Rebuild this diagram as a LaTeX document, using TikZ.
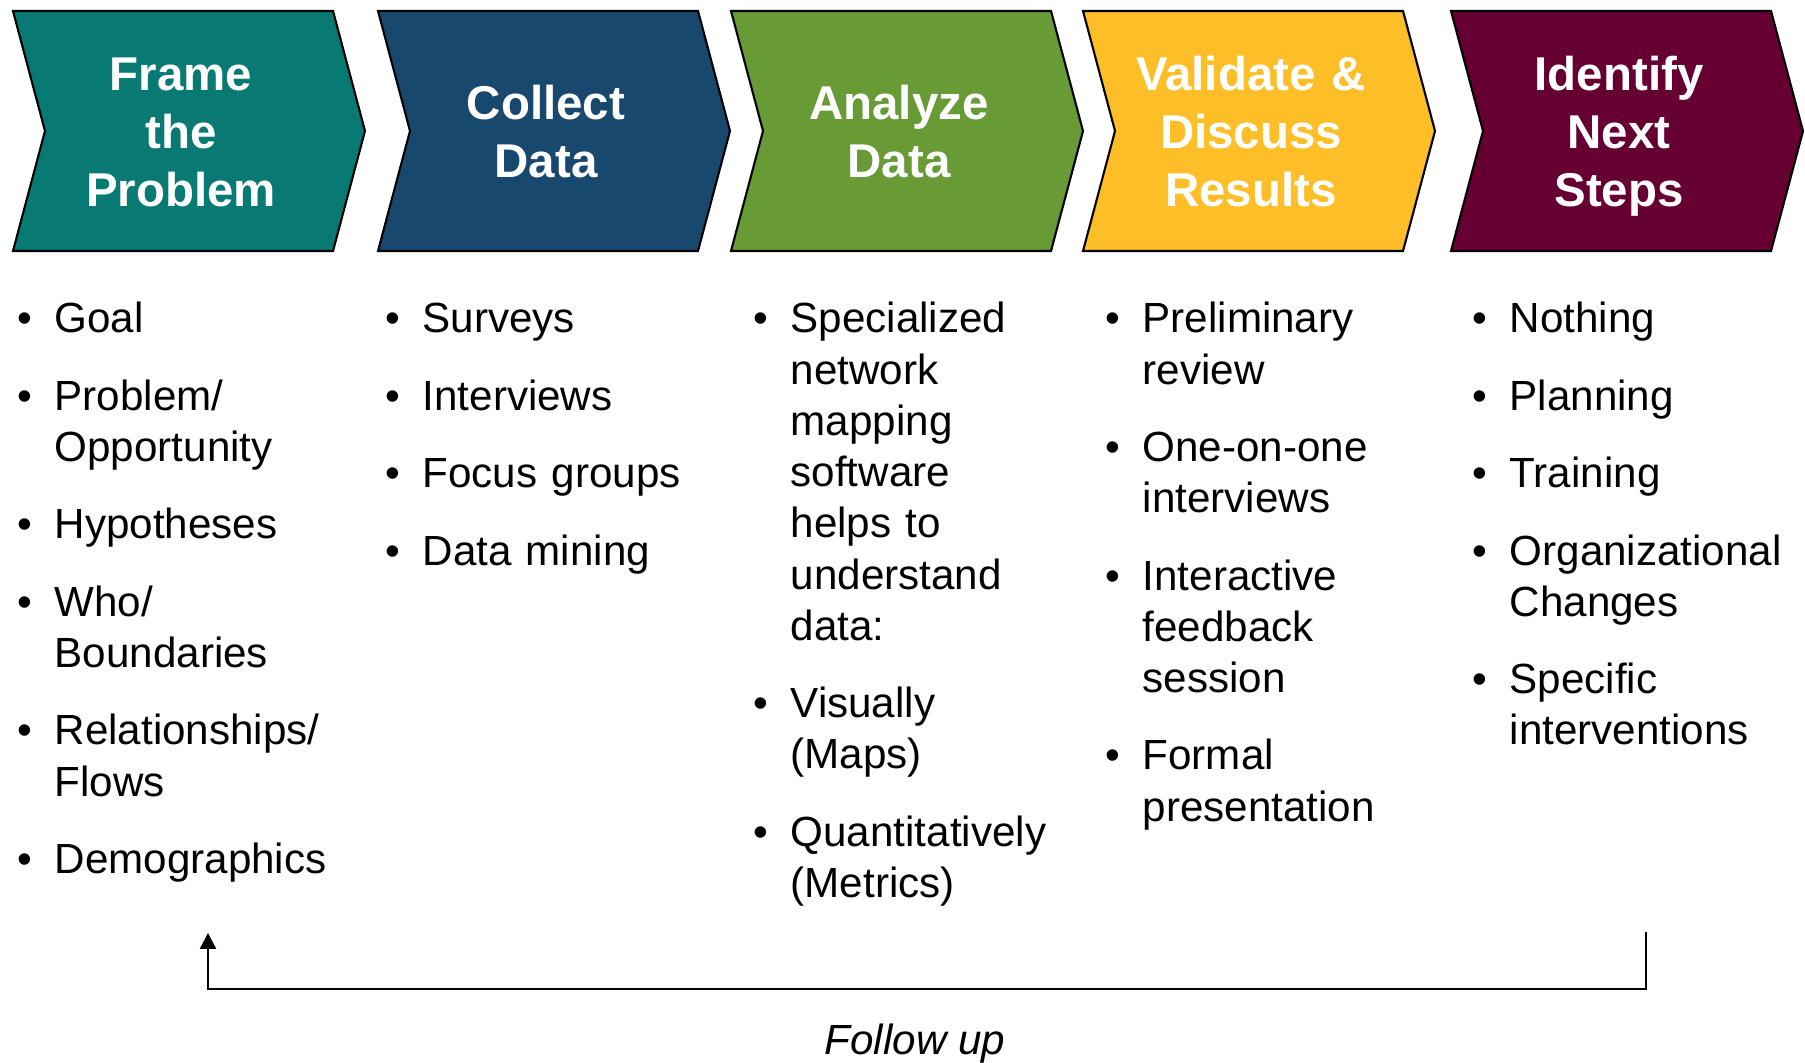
\documentclass[tikz,border=0pt]{standalone}
\usepackage{fontspec}
\setmainfont{Liberation Sans}
\usetikzlibrary{arrows.meta}

\definecolor{frameteal}{HTML}{087A73}
\definecolor{collectblue}{HTML}{19486E}
\definecolor{analyzegreen}{HTML}{689A36}
\definecolor{validateyellow}{HTML}{FDBE28}
\definecolor{nextmaroon}{HTML}{660033}

% one bullet point, wrapped lines hang under the text
\newcommand{\pitem}[1]{\hangindent=0.6cm\hangafter=1\makebox[0.6cm][l]{\hspace{0.226cm}\textbullet}#1}
\newcommand{\pnext}{\par\vspace{7.45pt}}

\tikzset{
  chevron/.style={draw=black, line width=0.6pt, line join=miter},
  chevtext/.style={anchor=base, inner sep=0pt, text width=3.2cm, text=white, align=center,
                   font=\bfseries\fontsize{13.5}{16.5}\selectfont},
  bulletcol/.style={anchor=base west, inner sep=0pt, text width=3.5cm, align=left,
                    font=\fontsize{12}{14.57}\selectfont},
  backarrow/.style={line width=0.7pt, -{Triangle[width=0.16cm,length=0.16cm]}}
}

\begin{document}
\begin{tikzpicture}
        \useasboundingbox (0,0) rectangle (18.05,10.63);

        % Chevrons (\b = baseline of the first heading line)
        \foreach \l/\c/\n/\b/\t in {0.13/frameteal/frame/9.72/{Frame\\the\\Problem},
                                    3.78/collectblue/collect/9.43/{Collect\\Data},
                                    7.31/analyzegreen/analyze/9.43/{Analyze\\Data},
                                    10.83/validateyellow/validate/9.72/{Validate \&\\Discuss\\Results},
                                    14.51/nextmaroon/next/9.72/{Identify\\Next\\Steps}}
        {
            \draw[chevron, fill=\c] (\l,10.52) -- ++(3.20,0) -- ++(0.32,-1.20) -- ++(-0.32,-1.20)
                -- ++(-3.20,0) -- ++(0.32,1.20) -- cycle;
            \node[chevtext] (\n) at (\l+1.68,\b) {\t};
        }

        % Bullet lists
        \node[bulletcol] (frame-list) at (-0.06,7.30) {\pitem{Goal}\pnext
            \pitem{Problem/\newline Opportunity}\pnext
            \pitem{Hypotheses}\pnext
            \pitem{Who/\newline Boundaries}\pnext
            \pitem{Relationships/\newline Flows}\pnext
            \pitem{Demographics}\par};
        \node[bulletcol] (collect-list) at (3.62,7.30) {\pitem{Surveys}\pnext
            \pitem{Interviews}\pnext
            \pitem{Focus groups}\pnext
            \pitem{Data mining}\par};
        \node[bulletcol] (analyze-list) at (7.30,7.30) {\pitem{Specialized\newline network\newline mapping\newline software\newline helps to\newline understand\newline data:}\pnext
            \pitem{Visually\newline (Maps)}\pnext
            \pitem{Quantitatively\newline (Metrics)}\par};
        \node[bulletcol] (validate-list) at (10.82,7.30) {\pitem{Preliminary\newline review}\pnext
            \pitem{One-on-one\newline interviews}\pnext
            \pitem{Interactive\newline feedback\newline session}\pnext
            \pitem{Formal\newline presentation}\par};
        \node[bulletcol] (next-list) at (14.49,7.30) {\pitem{Nothing}\pnext
            \pitem{Planning}\pnext
            \pitem{Training}\pnext
            \pitem{Organizational\newline Changes}\pnext
            \pitem{Specific\newline interventions}\par};

        % Follow up
        \coordinate (fu-from) at (16.46,1.31);
        \coordinate (fu-to) at (2.08,1.30);
        \draw[backarrow] (fu-from) -- ++(0,-0.57) -| (fu-to);
        \node[anchor=base, inner sep=0pt, font=\itshape\fontsize{12}{14.57}\selectfont] (fu-label) at (9.15,0.08) {Follow up};
\end{tikzpicture}
\end{document}
